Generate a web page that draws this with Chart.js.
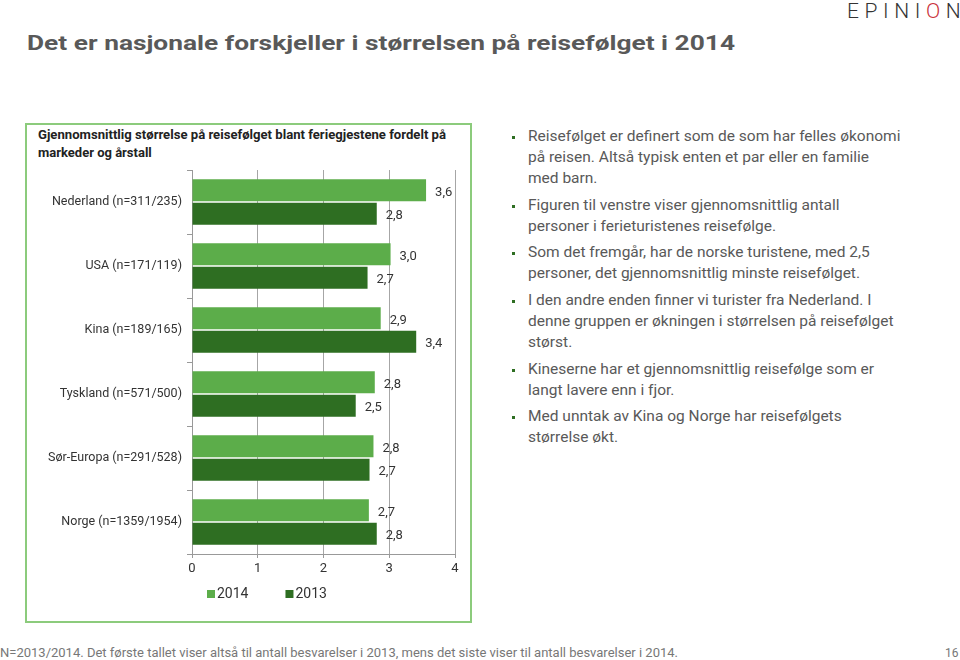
<!DOCTYPE html>
<html>
<head>
<meta charset="utf-8">
<script src="https://cdn.jsdelivr.net/npm/chart.js@4.4.0/dist/chart.umd.min.js"></script>
<style>
  html,body{margin:0;padding:0;background:#fff;}
  body{width:960px;height:660px;position:relative;overflow:hidden;font-family:Roboto,"Open Sans",sans-serif;}
  #logo{position:absolute;left:847px;top:0px;font-size:21px;font-weight:300;letter-spacing:5.6px;color:#333;line-height:22px;white-space:nowrap;}
  #logo .o{color:#c9303a;}
  #title{position:absolute;left:27px;top:30px;font-size:21px;font-weight:bold;color:#595959;line-height:26px;white-space:nowrap;transform-origin:left center;}
  #box{position:absolute;left:25px;top:123px;width:443px;height:496px;border:2px solid #8ccb7c;}
  #sub{position:absolute;left:38px;top:126px;font-size:13px;font-weight:bold;color:#222;line-height:18px;white-space:nowrap;}
  #sub div{transform-origin:left center;}
  #bul{position:absolute;left:528px;top:126px;margin:0;padding:0;list-style:none;font-size:15.5px;line-height:21px;color:#595959;white-space:nowrap;}
  #bul li{position:relative;margin-bottom:5.7px;}
  #bul li:before{content:"";position:absolute;left:-16px;top:10px;width:3px;height:3px;background:#2e6e22;}
  #foot{position:absolute;left:0px;top:645px;font-size:12px;color:#777;white-space:nowrap;line-height:16px;transform-origin:left center;}
  #page{position:absolute;left:945px;top:645px;font-size:12px;color:#777;line-height:16px;}
  #c{position:absolute;left:0;top:0;}
</style>
</head>
<body>
<div id="logo">EPINI<span class="o">O</span>N</div>
<div id="title">Det er nasjonale forskjeller i størrelsen på reisefølget i 2014</div>
<div id="box"></div>
<div id="sub"><div id="s1">Gjennomsnittlig størrelse på reisefølget blant feriegjestene fordelt på</div><div id="s2">markeder og årstall</div></div>
<ul id="bul">
  <li>Reisefølget er definert som de som har felles økonomi<br>på reisen. Altså typisk enten et par eller en familie<br>med barn.</li>
  <li>Figuren til venstre viser gjennomsnittlig antall<br>personer i ferieturistenes reisefølge.</li>
  <li>Som det fremgår, har de norske turistene, med 2,5<br>personer, det gjennomsnittlig minste reisefølget.</li>
  <li>I den andre enden finner vi turister fra Nederland. I<br>denne gruppen er økningen i størrelsen på reisefølget<br>størst.</li>
  <li>Kineserne har et gjennomsnittlig reisefølge som er<br>langt lavere enn i fjor.</li>
  <li>Med unntak av Kina og Norge har reisefølgets<br>størrelse økt.</li>
</ul>
<div id="foot">N=2013/2014. Det første tallet viser altså til antall besvarelser i 2013, mens det siste viser til antall besvarelser i 2014.</div>
<div id="page">16</div>
<canvas id="c" width="960" height="660"></canvas>
<script>
const categories = ["Nederland (n=311/235)", "USA (n=171/119)", "Kina (n=189/165)", "Tyskland (n=571/500)", "Sør-Europa (n=291/528)", "Norge (n=1359/1954)"];
const values2014 = [3.56, 3.02, 2.87, 2.78, 2.76, 2.69];
const values2013 = [2.81, 2.67, 3.41, 2.49, 2.70, 2.81];
const seriesLabels = ["2014", "2013"];
const xTicks = [0, 1, 2, 3, 4];

function fitWidth(id, w){
  const el = document.getElementById(id);
  const cur = el.getBoundingClientRect().width;
  if (cur > 0) el.style.transform = 'scaleX(' + (w/cur) + ')';
}
fitWidth('title', 708);
fitWidth('s1', 408);
fitWidth('foot', 678);

const FONT = "Roboto, 'Open Sans', sans-serif";
const fmt = v => (Math.round(v * 10) / 10).toFixed(1).replace('.', ',');

const dataLabels = {
  id: 'dataLabels',
  afterDatasetsDraw(chart){
    const ctx = chart.ctx;
    ctx.save();
    ctx.font = "13px " + FONT;
    ctx.fillStyle = '#333';
    ctx.textAlign = 'left';
    ctx.textBaseline = 'middle';
    chart.data.datasets.forEach((ds, di) => {
      const meta = chart.getDatasetMeta(di);
      meta.data.forEach((bar, i) => {
        ctx.fillText(fmt(ds.data[i]), bar.x + 9, bar.y + 2);
      });
    });
    ctx.restore();
  }
};

const customLegend = {
  id: 'customLegend',
  afterDraw(chart){
    const ctx = chart.ctx;
    const a = chart.chartArea;
    ctx.save();
    ctx.font = "14px " + FONT;
    ctx.textBaseline = 'middle';
    ctx.textAlign = 'left';
    let x = a.left + 15;
    const y = a.bottom + 40;
    chart.data.datasets.forEach(ds => {
      ctx.fillStyle = ds.backgroundColor;
      ctx.fillRect(x, y - 4, 8, 8);
      ctx.fillStyle = '#333';
      ctx.fillText(ds.label, x + 10, y);
      x += 10 + ctx.measureText(ds.label).width + 37;
    });
    ctx.restore();
  }
};

new Chart(document.getElementById('c'), {
  type: 'bar',
  data: {
    labels: categories,
    datasets: [
      {label: seriesLabels[0], data: values2014, backgroundColor: '#5cad4a', barPercentage: 0.94, categoryPercentage: 0.73},
      {label: seriesLabels[1], data: values2013, backgroundColor: '#2e6e22', barPercentage: 0.94, categoryPercentage: 0.73}
    ]
  },
  options: {
    indexAxis: 'y',
    responsive: false,
    animation: false,
    layout: {padding: {left: 0, right: 505, top: 170, bottom: 0}},
    plugins: {legend: {display: false}, tooltip: {enabled: false}},
    scales: {
      x: {
        min: 0, max: 4,
        afterFit(s){ s.height = 106; },
        afterBuildTicks(s){ s.ticks = xTicks.map(v => ({value: v})); },
        ticks: {color: '#333', font: {family: FONT, size: 13}, padding: 3},
        grid: {
          color: ctx => (ctx.tick && ctx.tick.value === 0) ? 'rgba(0,0,0,0)' : '#a6a6a6',
          tickColor: '#999',
          borderDash: [4, 3],
          tickBorderDash: [],
          tickLength: 4,
          lineWidth: 1
        },
        border: {display: true, color: '#999', width: 1}
      },
      y: {
        afterFit(s){ s.width = 192; },
        ticks: {color: '#333', font: {family: FONT, size: 12.5}, padding: 5},
        grid: {drawOnChartArea: false, tickLength: 5, color: '#999', offset: true},
        border: {display: true, color: '#999', width: 1}
      }
    }
  },
  plugins: [dataLabels, customLegend]
});
</script>
</body>
</html>
